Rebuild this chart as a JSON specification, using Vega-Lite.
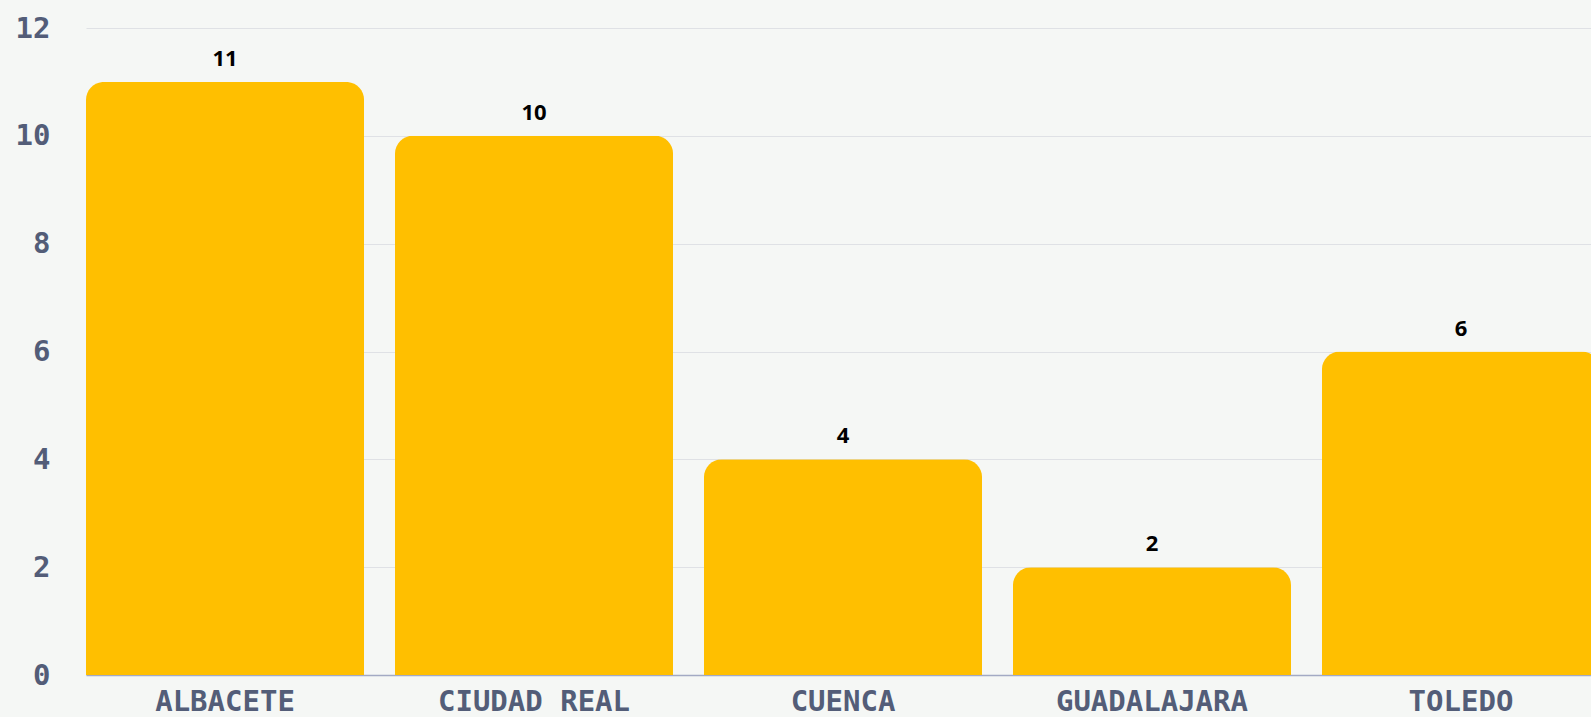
{
  "$schema": "https://vega.github.io/schema/vega-lite/v6.json",
  "autosize": {"type": "none"},
  "padding": {"left": 86, "top": 28, "right": 0, "bottom": 42},
  "width": 1514,
  "height": 647,
  "background": "#f5f7f5",
  "config": {
    "view": {"stroke": null},
    "axis": {"labelFont": "DejaVu Sans Mono", "labelFontWeight": "bold", "labelColor": "#535d78", "title": null, "labelLimit": 0}
  },
  "data": {
    "values": [
      {"provincia": "ALBACETE", "valor": 11},
      {"provincia": "CIUDAD REAL", "valor": 10},
      {"provincia": "CUENCA", "valor": 4},
      {"provincia": "GUADALAJARA", "valor": 2},
      {"provincia": "TOLEDO", "valor": 6}
    ]
  },
  "encoding": {
    "x": {
      "field": "provincia", "type": "nominal", "sort": null,
      "scale": {"paddingInner": 0.1, "paddingOuter": 0},
      "axis": {"labelAngle": 0, "labelFontSize": 29, "labelPadding": 12, "ticks": false, "tickSize": 0, "domainColor": "#a3aac4", "domainWidth": 1.5, "grid": false}
    },
    "y": {
      "field": "valor", "type": "quantitative",
      "scale": {"domain": [0, 12]},
      "axis": {"values": [0, 2, 4, 6, 8, 10, 12], "labelFontSize": 29, "labelPadding": 36, "ticks": false, "tickSize": 0, "domain": false, "gridColor": "#dfe1e5", "gridWidth": 1}
    }
  },
  "layer": [
    {"mark": {"type": "bar", "color": "#ffbf00", "cornerRadiusTopLeft": 18, "cornerRadiusTopRight": 18}},
    {"mark": {"type": "text", "font": "Open Sans", "fontWeight": "bold", "fontSize": 22, "color": "#000000", "baseline": "alphabetic", "dy": -16}, "encoding": {"text": {"field": "valor", "type": "quantitative"}}}
  ]
}
